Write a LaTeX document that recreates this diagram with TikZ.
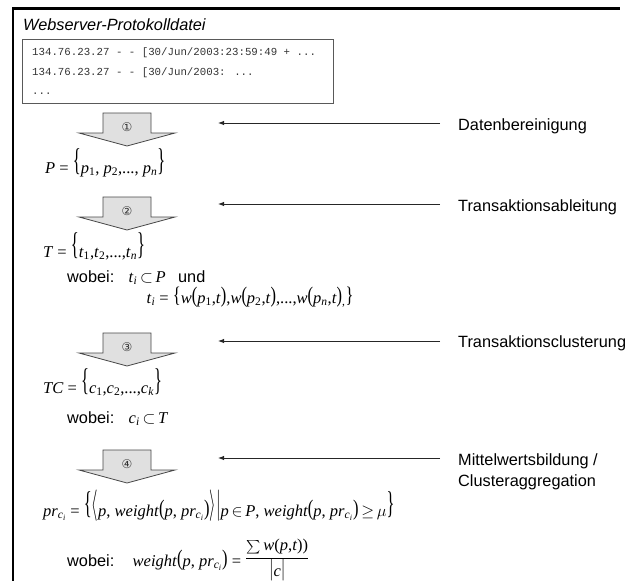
\RequirePackage{fix-cm}
\documentclass[tikz,border=0pt]{standalone}
\usepackage{fontspec}
\setmainfont{Liberation Sans}
\newfontfamily\tms{Liberation Serif}
\newfontfamily\crr{Liberation Mono}
\newfontfamily\djv{DejaVu Sans}
\usetikzlibrary{arrows.meta}

% formula helpers
\newcommand\vi[1]{\textit{#1}}
\newcommand\sbs[1]{\textsubscript{#1}}
\newcommand\tallbr[1]{\raisebox{2.5pt}{\scalebox{1}[1.9]{#1}}}
\newcommand\midbr[1]{\raisebox{1pt}{\scalebox{1}[1.35]{#1}}}
\newcommand\ci{\vi{c}\sbs{\vi{i}}}
% block arrow pointing down, top edge at y=#1
\newcommand\blockarrow[1]{%
  \draw[blk] (103,#1) -- (151,#1) -- (151,#1+20) -- (175,#1+20)
    -- (127,#1+33) -- (79,#1+20) -- (103,#1+20) -- cycle;}

\begin{document}
\begin{tikzpicture}[x=1pt,y=-1pt,
  lab/.style={font=\fontsize{16.3}{21}\selectfont, anchor=base west, inner sep=0pt},
  fml/.style={font=\tms\fontsize{16.5}{19}\selectfont, anchor=base west, inner sep=0pt},
  logtxt/.style={font=\crr\fontsize{10.75}{12}\selectfont, text=black!80, anchor=base west, inner sep=0pt},
  conn/.style={draw=black!85, line width=1pt, -{Latex[length=6pt,width=4.5pt]}},
  blk/.style={draw=black!72, fill=black!12, line width=0.8pt},
  num/.style={font=\djv\fontsize{12}{12}\selectfont, text=black!80, inner sep=0pt},
]
\useasboundingbox (0,0) rectangle (625,581);

% outer frame (top and left edges)
\draw[line width=2.5pt] (13,600) -- (13,8.5) -- (620,8.5);

% log file
\node[lab, font=\itshape\fontsize{16.3}{19}\selectfont] (title) at (23,30) {Webserver-Protokolldatei};
\node[draw=black!65, line width=0.8pt, anchor=north west, inner sep=0pt,
      minimum width=311pt, minimum height=64pt] (logbox) at (22,39) {};
\node[logtxt] (log1) at (32,55) {134.76.23.27 - - [30/Jun/2003:23:59:49 + ...};
\node[logtxt] (log2) at (32,75) {134.76.23.27 - - [30/Jun/2003: ...};
\node[logtxt] (log3) at (32,94) {...};

% processing steps
\blockarrow{113}
\blockarrow{197}
\blockarrow{333}
\blockarrow{450}
\node[num] (n1) at (127,127) {①};
\node[num] (n2) at (127,211) {②};
\node[num] (n3) at (127,347) {③};
\node[num] (n4) at (127,464) {④};

% step labels
\coordinate (h) at (218,0);
\node[lab] (l1) at (458,130) {Datenbereinigung};
\node[lab] (l2) at (458,211) {Transaktionsableitung};
\node[lab] (l3) at (458,347) {Transaktionsclusterung};
\node[lab, align=left] (l4) at (458,486) {Mittelwertsbildung /\\Clusteraggregation};
\coordinate (e1) at (440,123);
\coordinate (e2) at (440,204);
\coordinate (e3) at (440,341);
\coordinate (e4) at (440,458);
\draw[conn] (e1) -- (h |- e1);
\draw[conn] (e2) -- (h |- e2);
\draw[conn] (e3) -- (h |- e3);
\draw[conn] (e4) -- (h |- e4);

% formulas
\node[fml] (fP) at (45,173) {\vi{P} = \tallbr{\{}\vi{p}\sbs{1}, \vi{p}\sbs{2},..., \vi{p}\sbs{\vi{n}}\tallbr{\}}};
\node[fml] (fT) at (43,257) {\vi{T} = \tallbr{\{}\vi{t}\sbs{1},\vi{t}\sbs{2},...,\vi{t}\sbs{\vi{n}}\tallbr{\}}};
\node[lab] (w1) at (67,282) {wobei:};
\node[fml] (fT1) at ([xshift=14pt]w1.base east) {\vi{t}\sbs{\vi{i}}\,$\subset$\,\vi{P}};
\node[lab] (und) at ([xshift=12pt]fT1.base east) {und};
\node[fml] (fT2) at ([xshift=18pt,yshift=-21pt]fT1.base west) {\vi{t}\sbs{\vi{i}} = \midbr{\{}\vi{w}\midbr{(}\vi{p}\sbs{1},\vi{t}\midbr{)},\vi{w}\midbr{(}\vi{p}\sbs{2},\vi{t}\midbr{)},...,\vi{w}\midbr{(}\vi{p}\sbs{\vi{n}},\vi{t}\midbr{)}\sbs{,}\midbr{\}}};
\node[fml] (fTC) at (43,393) {\vi{TC} = \tallbr{\{}\vi{c}\sbs{1},\vi{c}\sbs{2},...,\vi{c}\sbs{\vi{k}}\tallbr{\}}};
\node[lab] (w2) at (67,423) {wobei:};
\node[fml] (fC) at ([xshift=14pt]w2.base east) {\ci\,$\subset$\,\vi{T}};
\node[fml] (fPR) at (43,516) {\vi{pr}\sbs{\ci} = \tallbr{\{}\tallbr{$\langle$}\vi{p}, \vi{weight}\midbr{(}\vi{p}, \vi{pr}\sbs{\ci}\midbr{)}\tallbr{$\rangle$}\tallbr{$|$}\vi{p}\,$\in$\,\vi{P}, \vi{weight}\midbr{(}\vi{p}, \vi{pr}\sbs{\ci}\midbr{)}\,$\geq$\,$\mu$\tallbr{\}}};
\node[lab] (w3) at (67,566) {wobei:};
\node[fml] (fW) at ([xshift=18pt]w3.base east) {\vi{weight}\midbr{(}\vi{p}, \vi{pr}\sbs{\ci}\midbr{)} = \raisebox{4pt}{$\displaystyle\frac{\mbox{\raisebox{-1.5pt}{\scalebox{1.35}{$\sum$}}\,\vi{w}(\vi{p},\vi{t}))}}{\mbox{\midbr{$|$}\vi{c}\midbr{$|$}}}$}};
\end{tikzpicture}
\end{document}
